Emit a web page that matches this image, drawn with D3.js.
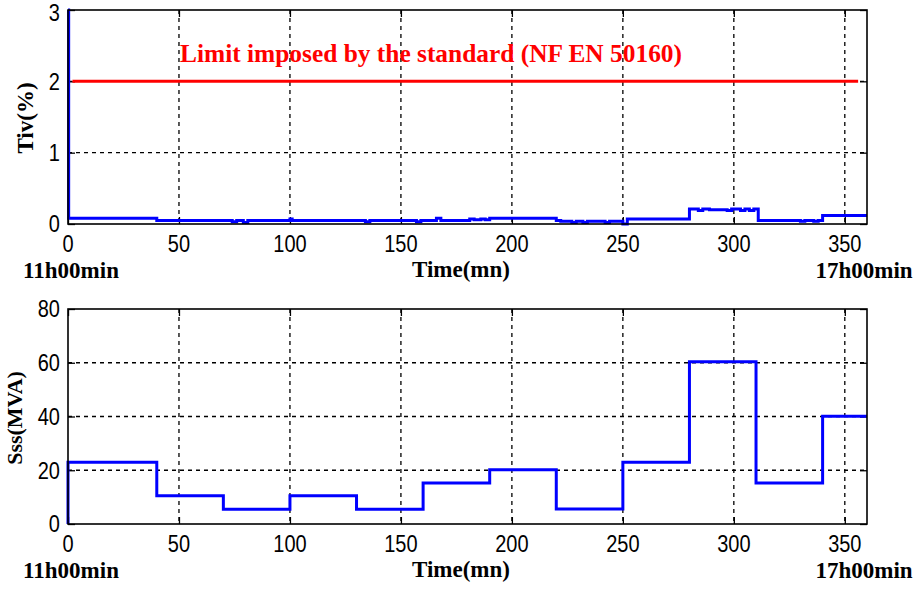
<!DOCTYPE html>
<html>
<head>
<meta charset="utf-8">
<script src="https://cdn.jsdelivr.net/npm/d3@7"></script>
<style>
body { margin: 0; background: #fff; }
</style>
</head>
<body>
<div id="chart"></div>
<script>
// data
var timeTicks = [0, 50, 100, 150, 200, 250, 300, 350]
var tivTicks = [0, 1, 2, 3]
var sssTicks = [0, 20, 40, 60, 80]

// top panel: Tiv (%) step series
var tivTime  = [0, 0.3, 40, 74, 76, 79, 81, 100, 101, 134, 136, 157, 159, 166, 168, 181, 183, 186, 188, 190, 220, 222, 227, 229, 232, 234, 242, 244, 250, 252, 280, 284, 286, 289, 297, 299, 303, 305, 307, 309, 311, 330, 332, 336, 338, 340, 360]
var tivValue = [3, 0.08, 0.05, 0.03, 0.05, 0.02, 0.05, 0.07, 0.05, 0.03, 0.05, 0.03, 0.05, 0.08, 0.05, 0.07, 0.06, 0.07, 0.06, 0.08, 0.05, 0.04, 0.02, 0.04, 0.02, 0.04, 0.02, 0.04, 0.00, 0.07, 0.21, 0.19, 0.21, 0.20, 0.19, 0.21, 0.19, 0.21, 0.19, 0.21, 0.05, 0.04, 0.05, 0.04, 0.05, 0.12, 0.12]

// limit of the standard
var limitTime = [2, 356]
var limitValue = [2, 2]

// bottom panel: Sss (MVA) step series
var sssTime  = [0, 0, 40, 70, 100, 130, 160, 190, 220, 250, 280, 310, 340, 360]
var sssValue = [0, 23, 10.5, 5.5, 10.5, 5.5, 15.3, 20.2, 5.6, 23, 60.4, 15.3, 40.1, 40.1]

var width = 922
var height = 590
var left = 68, right = 867
var stretch = 1.18 // tick digits are drawn a little taller than wide

var svg = d3.select("#chart")
  .append("svg")
    .attr("width", width)
    .attr("height", height)

var serif = "'Liberation Serif', 'Times New Roman', serif"
var sans = "'Liberation Sans', Arial, sans-serif"

// text helper, tick digits get stretched vertically
function label(g, x, y, txt, opt) {
  opt = opt || {}
  var tr = "translate(" + x + "," + y + ")"
  if (opt.rotate) tr += " rotate(-90)"
  if (!opt.serif) tr += " scale(1," + stretch + ")"
  return g.append("text")
      .attr("transform", tr)
      .attr("text-anchor", opt.anchor || "middle")
      .attr("dy", opt.dy || null)
      .attr("font-family", opt.serif ? serif : sans)
      .attr("font-weight", opt.serif ? "bold" : "normal")
      .attr("font-size", opt.size || 20)
      .attr("fill", opt.fill || "#000")
      .text(txt)
}

function panel(top, bottom, yDomain, yTicks, yLabel, labelPos) {
  var x = d3.scaleLinear().domain([0, 360]).range([left, right])
  var y = d3.scaleLinear().domain(yDomain).range([bottom, top])
  var g = svg.append("g")

  // grid
  g.append("g")
      .attr("stroke", "#000")
      .attr("stroke-width", 1.3)
      .attr("stroke-dasharray", "4,4")
    .selectAll("line")
    .data(timeTicks.filter(d => d > 0))
    .join("line")
      .attr("x1", d => x(d)).attr("x2", d => x(d))
      .attr("y1", top).attr("y2", bottom)
  g.append("g")
      .attr("stroke", "#000")
      .attr("stroke-width", 1.3)
      .attr("stroke-dasharray", "4,4")
    .selectAll("line")
    .data(yTicks.filter(d => d > yDomain[0] && d < yDomain[1]))
    .join("line")
      .attr("x1", left).attr("x2", right)
      .attr("y1", d => y(d)).attr("y2", d => y(d))

  // axes with inward ticks, labels drawn separately
  var xb = g.append("g")
      .attr("transform", "translate(0," + bottom + ")")
      .call(d3.axisBottom(x).tickValues(timeTicks).tickSizeInner(-7).tickSizeOuter(0).tickFormat(""))
  var xt = g.append("g")
      .attr("transform", "translate(0," + top + ")")
      .call(d3.axisTop(x).tickValues(timeTicks).tickSizeInner(-7).tickSizeOuter(0).tickFormat(""))
  var yl = g.append("g")
      .attr("transform", "translate(" + left + ",0)")
      .call(d3.axisLeft(y).tickValues(yTicks).tickSizeInner(-7).tickSizeOuter(0).tickFormat(""))
  var yr = g.append("g")
      .attr("transform", "translate(" + right + ",0)")
      .call(d3.axisRight(y).tickValues(yTicks).tickSizeInner(-7).tickSizeOuter(0).tickFormat(""))
  ;[xb, xt, yl, yr].forEach(a => {
    a.select(".domain").remove()
    a.selectAll("line").attr("stroke", "#000").attr("stroke-width", 1.3)
  })

  timeTicks.forEach(t => label(g, x(t), bottom + 28, d3.format("d")(t)))
  yTicks.forEach(v => label(g, left - 8, Math.max(y(v), 13), d3.format("d")(v), {anchor: "end", dy: "0.36em"}))

  label(g, labelPos.x, labelPos.y, yLabel, {serif: true, size: labelPos.size, rotate: true})

  label(g, 461, bottom + 53, "Time(mn)", {serif: true, size: 23})
  label(g, x(0) + 3, bottom + 54, "11h00min", {serif: true, size: 23})
  label(g, x(360) - 3, bottom + 54, "17h00min", {serif: true, size: 23})

  return {g: g, x: x, y: y}
}

function frame(p, top, bottom) {
  p.g.append("rect")
      .attr("x", left).attr("y", top)
      .attr("width", right - left).attr("height", bottom - top)
      .attr("fill", "none")
      .attr("stroke", "#000")
      .attr("stroke-width", 1.6)
}

// ---- top panel
var p1 = panel(10, 224, [0, 3], tivTicks, "Tiv(%)", {x: 33, y: 118, size: 23})

var line1 = d3.line()
    .x(d => p1.x(d[0]))
    .y(d => p1.y(d[1]))
    .curve(d3.curveStepAfter)

p1.g.append("path")
    .datum(limitTime.map((t, i) => [t, limitValue[i]]))
    .attr("fill", "none")
    .attr("stroke", "#ff0000")
    .attr("stroke-width", 3)
    .attr("d", d3.line().x(d => p1.x(d[0])).y(d => p1.y(d[1])))

p1.g.append("path")
    .datum(tivTime.map((t, i) => [t, tivValue[i]]))
    .attr("fill", "none")
    .attr("stroke", "#0000ff")
    .attr("stroke-width", 3)
    .attr("d", line1)

label(p1.g, 431, 62, "Limit imposed by the standard (NF EN 50160)", {serif: true, size: 25.4, fill: "#ff0000"})

frame(p1, 10, 224)

// ---- bottom panel
var p2 = panel(309, 524, [0, 80], sssTicks, "Sss(MVA)", {x: 22, y: 418, size: 22})

var line2 = d3.line()
    .x(d => p2.x(d[0]))
    .y(d => p2.y(d[1]))
    .curve(d3.curveStepAfter)

p2.g.append("path")
    .datum(sssTime.map((t, i) => [t, sssValue[i]]))
    .attr("fill", "none")
    .attr("stroke", "#0000ff")
    .attr("stroke-width", 3)
    .attr("d", line2)

frame(p2, 309, 524)
</script>
</body>
</html>
